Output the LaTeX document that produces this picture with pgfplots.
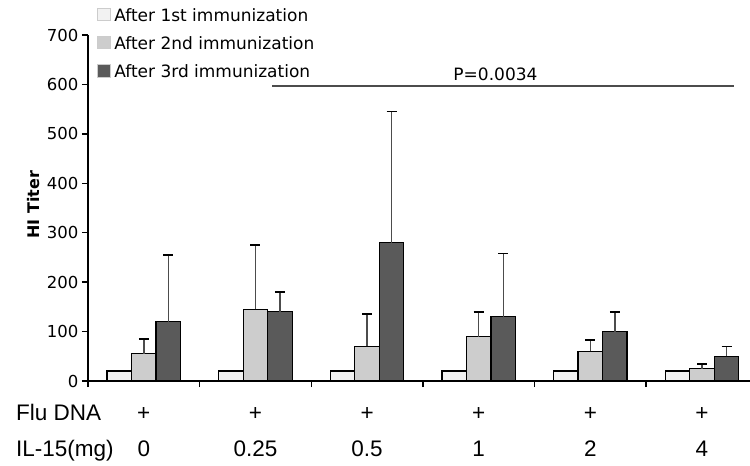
\documentclass[border=0pt]{standalone}
\usepackage{fontspec}
\setmainfont{DejaVu Sans}
\newfontfamily\arialf{Liberation Sans}
\usepackage{pgfplots}
\usepackage{pgfplotstable}
\pgfplotsset{compat=1.18}

\definecolor{barA}{HTML}{F2F2F2}
\definecolor{barB}{HTML}{CDCDCD}
\definecolor{barC}{HTML}{5A5A5A}

% group index, mean titer, upper error
\pgfplotstableread{
x y e
0 20 0
1 20 0
2 20 0
3 20 0
4 20 0
5 20 0
}\first
\pgfplotstableread{
x y e
0 55 30
1 145 130
2 70 65
3 90 50
4 60 23
5 25 10
}\second
\pgfplotstableread{
x y e
0 120 135
1 140 40
2 280 265
3 130 128
4 100 40
5 50 20
}\third

\tikzset{cat/.style={anchor=base, inner sep=0pt, font=\arialf\fontsize{22.5}{24}\selectfont}}

\begin{document}
\begin{tikzpicture}
\begin{axis}[
    scale only axis, width=662pt, height=346pt,
    xmin=-0.5, xmax=5.43, ymin=0, ymax=700,
    axis x line*=bottom, axis y line*=left,
    axis line style={line width=1.8pt},
    ytick={0,100,...,700},
    xtick={-0.5,0.5,...,4.5},
    xticklabels={},
    x tick style={line width=1.5pt, black},
    y tick style={line width=1.5pt, black},
    tick align=outside, major tick length=6pt,
    y tick label style={font=\fontsize{16.5}{18}\selectfont},
    /pgf/number format/assume math mode=true,
    ylabel={\bfseries HI Titer},
    ylabel style={at={(axis description cs:-0.083,0.51)}, anchor=center,
        font=\fontsize{16}{18}\selectfont},
    ybar=0pt, bar width=24.5pt,
    clip=false,
    legend cell align=left,
    legend style={at={(axis description cs:0.0136,1.08)}, anchor=north west,
        draw=none, fill=none, font=\fontsize{17}{19}\selectfont,
        row sep=10.5pt, column sep=4pt, inner sep=0pt,
        nodes={inner sep=0pt, text height=13pt, text depth=4pt}},
    legend image code/.code={\fill[#1, draw=black!20, line width=0.6pt] (0pt,-3.5pt) rectangle (12.5pt,9pt);},
    error bars/y dir=plus, error bars/y explicit,
    error bars/error bar style={line width=1.4pt, black!70},
    error bars/error mark options={rotate=90, mark size=5pt, line width=1.6pt, black},
]
\addplot[fill=barA, draw=black, line width=1.3pt] table[x=x, y=y] {\first};
\addplot[fill=barB, draw=black, line width=1.3pt] table[x=x, y=y, y error=e] {\second};
\addplot[fill=barC, draw=black, line width=1.3pt] table[x=x, y=y, y error=e] {\third};
\legend{After 1st immunization, After 2nd immunization, After 3rd immunization}

\draw[line width=1.2pt, black!70] (axis cs:1.15,597) -- (axis cs:5.29,597);
\node[anchor=base, font=\fontsize{17}{19}\selectfont] at (axis cs:3.15,608) {P=0.0034};
% category rows under the axis
\pgfplotsinvokeforeach{0,...,5}{
  \node[cat] at ([yshift=-39pt]axis cs:#1,0) {+};
}
\node[cat] at ([yshift=-75pt]axis cs:0,0) {0};
\node[cat] at ([yshift=-75pt]axis cs:1,0) {0.25};
\node[cat] at ([yshift=-75pt]axis cs:2,0) {0.5};
\node[cat] at ([yshift=-75pt]axis cs:3,0) {1};
\node[cat] at ([yshift=-75pt]axis cs:4,0) {2};
\node[cat] at ([yshift=-75pt]axis cs:5,0) {4};
\node[cat, anchor=base west] at ([xshift=-72pt, yshift=-39pt]rel axis cs:0,0) {Flu DNA};
\node[cat, anchor=base west] at ([xshift=-72pt, yshift=-75pt]rel axis cs:0,0) {IL-15(mg)};
\coordinate (O) at (rel axis cs:0,0);
\end{axis}
\pgfresetboundingbox
\path ([shift={(-88pt,-85pt)}]O) rectangle ([shift={(662pt,381pt)}]O);
\end{tikzpicture}
\end{document}
